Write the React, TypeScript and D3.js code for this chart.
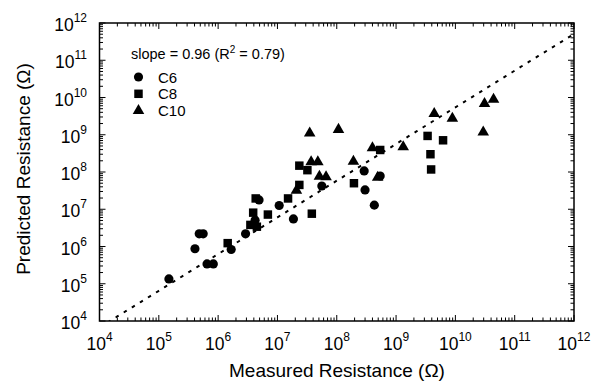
import React from "react";
import * as d3 from "d3";

// Measured vs predicted resistance (Ω)
const c6Measured = [1.48e5, 4.07e5, 4.8e5, 5.6e5, 6.5e5, 8.3e5, 1.66e6, 2.9e6, 4.2e6, 4.9e6, 1.07e7, 1.86e7, 5.6e7, 2.9e8, 3.0e8, 4.3e8, 5.4e8];
const c6Predicted = [1.35e5, 8.7e5, 2.19e6, 2.19e6, 3.4e5, 3.4e5, 8.3e5, 2.19e6, 5.1e6, 1.78e7, 1.26e7, 5.5e6, 4.2e7, 1.07e8, 3.3e7, 1.29e7, 7.8e7];

const c8Measured = [1.45e6, 3.5e6, 4.5e6, 3.9e6, 4.3e6, 6.9e6, 1.51e7, 2.34e7, 2.34e7, 3.2e7, 3.8e7, 1.95e8, 5.4e8, 3.4e9, 6.2e9, 3.8e9, 3.9e9];
const c8Predicted = [1.23e6, 3.8e6, 3.4e6, 8.1e6, 1.95e7, 7.2e6, 1.95e7, 4.5e7, 1.48e8, 1.12e8, 7.6e6, 5.0e7, 3.9e8, 9.3e8, 7.1e8, 3.0e8, 1.17e8];

const c10Measured = [2.09e7, 3.5e7, 3.7e7, 4.8e7, 5.1e7, 6.6e7, 1.07e8, 1.91e8, 4.0e8, 4.9e8, 1.32e9, 4.4e9, 8.9e9, 2.95e10, 3.1e10, 4.4e10];
const c10Predicted = [3.2e7, 1.10e9, 1.86e8, 1.86e8, 7.6e7, 7.4e7, 1.38e9, 1.91e8, 4.4e8, 7.2e7, 4.7e8, 3.7e9, 2.75e9, 1.17e9, 6.8e9, 8.9e9];

const seriesNames = ["C6", "C8", "C10"];
const tickExponents = [4, 5, 6, 7, 8, 9, 10, 11, 12];
const fitSlope = 0.985;
const fitIntercept = -0.114;
const fitLabel = "slope = 0.96 (R";
const fitLabelTail = " = 0.79)";

const W = 594, H = 381;
const X0 = 99.5, X1 = 574, Y0 = 23, Y1 = 321;
const FONT = "'Liberation Sans', Arial, Helvetica, sans-serif";

export default function App() {
  const x = d3.scaleLog().domain([1e4, 1e12]).range([X0, X1]);
  const y = d3.scaleLog().domain([1e4, 1e12]).range([Y1, Y0]);

  const symCircle = d3.symbol().type(d3.symbolCircle).size(66)();
  const symSquare = d3.symbol().type(d3.symbolSquare).size(72)();
  const symTriangle = d3.symbol().type(d3.symbolTriangle).size(58)();
  const syms = [symCircle, symSquare, symTriangle];

  const series = [
    { m: c6Measured, p: c6Predicted },
    { m: c8Measured, p: c8Predicted },
    { m: c10Measured, p: c10Predicted },
  ];

  const majors = tickExponents.map((e) => Math.pow(10, e));
  const minors: number[] = [];
  for (let e = 4; e < 12; e++) for (let k = 2; k <= 9; k++) minors.push(k * Math.pow(10, e));

  const fitXs = d3.range(4, 12.001, 0.05).map((e) => Math.pow(10, e));
  const fitLine = d3
    .line<number>()
    .x((v) => x(v))
    .y((v) => y(Math.pow(10, fitSlope * Math.log10(v) + fitIntercept)))(fitXs);

  const MAJ = 6, MIN = 3.5;

  return (
    <svg width={W} height={H} style={{ position: "absolute", left: 0, top: 0, background: "#fff" }} fontFamily={FONT}>
      <defs>
        <clipPath id="plot">
          <rect x={X0} y={Y0} width={X1 - X0} height={Y1 - Y0} />
        </clipPath>
      </defs>
      {/* ticks */}
      <g stroke="#000" strokeWidth={1}>
        {majors.map((v, i) => (
          <g key={"M" + i}>
            <line x1={x(v)} x2={x(v)} y1={Y1} y2={Y1 - MAJ} />
            <line x1={x(v)} x2={x(v)} y1={Y0} y2={Y0 + MAJ} />
            <line y1={y(v)} y2={y(v)} x1={X0} x2={X0 + MAJ} />
            <line y1={y(v)} y2={y(v)} x1={X1} x2={X1 - MAJ} />
          </g>
        ))}
        {minors.map((v, i) => (
          <g key={"m" + i}>
            <line x1={x(v)} x2={x(v)} y1={Y1} y2={Y1 - MIN} />
            <line x1={x(v)} x2={x(v)} y1={Y0} y2={Y0 + MIN} />
            <line y1={y(v)} y2={y(v)} x1={X0} x2={X0 + MIN} />
            <line y1={y(v)} y2={y(v)} x1={X1} x2={X1 - MIN} />
          </g>
        ))}
      </g>
      <rect x={X0} y={Y0} width={X1 - X0} height={Y1 - Y0} fill="none" stroke="#000" strokeWidth={1.5} />

      {/* fit line */}
      <path d={fitLine || ""} fill="none" stroke="#000" strokeWidth={2} strokeDasharray="3.5,6" clipPath="url(#plot)" />

      {/* points */}
      {series.map((s, si) =>
        s.m.map((mv, i) => (
          <path key={si + "-" + i} d={syms[si] || ""} transform={`translate(${x(mv)},${y(s.p[i])})`} fill="#000" />
        ))
      )}

      {/* x tick labels */}
      {tickExponents.map((e) => (
        <text key={"xl" + e} x={x(Math.pow(10, e))} y={350} textAnchor="middle" fontSize={17.5} fill="#000">
          10<tspan fontSize={12} dy={-9}>{e}</tspan>
        </text>
      ))}
      {/* y tick labels */}
      {tickExponents.map((e) => (
        <text key={"yl" + e} x={87} y={y(Math.pow(10, e)) + 8} textAnchor="end" fontSize={17.5} fill="#000">
          10<tspan fontSize={12} dy={-9}>{e}</tspan>
        </text>
      ))}

      {/* axis titles */}
      <text x={337} y={377} textAnchor="middle" fontSize={19} fill="#000">
        Measured Resistance (Ω)
      </text>
      <text transform="translate(30,169) rotate(-90)" textAnchor="middle" fontSize={19} fill="#000">
        Predicted Resistance (Ω)
      </text>

      {/* legend */}
      <text x={131} y={59} fontSize={14.5} fill="#000">
        {fitLabel}
        <tspan fontSize={10} dy={-6}>2</tspan>
        <tspan dy={6}>{fitLabelTail}</tspan>
      </text>
      {seriesNames.map((n, i) => (
        <g key={n}>
          <path d={syms[i] || ""} transform={`translate(138.5,${77 + i * 16.8})`} fill="#000" />
          <text x={158} y={82.5 + i * 16.8} fontSize={15} fill="#000">
            {n}
          </text>
        </g>
      ))}
    </svg>
  );
}
